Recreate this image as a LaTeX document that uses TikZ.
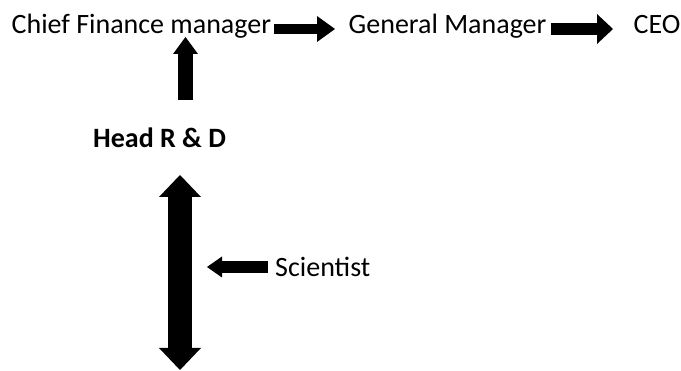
\documentclass[tikz,border=0pt]{standalone}
\usepackage{fontspec}
\setmainfont{Carlito}
\usetikzlibrary{arrows.meta}
\begin{document}
\begin{tikzpicture}[x=1pt,y=-1pt,
  label/.style={anchor=base west,inner sep=0pt,text height=18pt,text depth=8pt,
    font=\fontsize{28}{33}\selectfont},
  blockarrow/.style n args={3}{draw=black,line width=#1,
    -{Triangle[width=#2,length=#3,line width=0pt]}},
  dblarrow/.style n args={3}{draw=black,line width=#1,
    {Triangle[width=#2,length=#3,line width=0pt]}-{Triangle[width=#2,length=#3,line width=0pt]}}]
  \useasboundingbox (0,0) rectangle (681,371);
  \fill[white] (0,0) rectangle (681,371);

  % chain of command across the top
  \node[label] (cfm) at (11.5,34) {Chief Finance manager};
  \node[label] (gm)  at (348.5,34) {General Manager};
  \node[label] (ceo) at (633.5,34) {CEO};

  % research department
  \node[label,font=\fontsize{28}{33}\selectfont\bfseries] (hrd) at (93,148) {Head R \& D};
  \node[label] (sci) at (275,277) {Scientist};

  \coordinate (upfoot) at (185.5,100);
  \coordinate (uptip) at (185.5,37);
  \coordinate (dtop) at (180,175);
  \coordinate (dbot) at (180,370);
  \coordinate (scitip) at (207,267);

  % connectors
  \draw[blockarrow={10pt}{26pt}{18pt},shorten <=3pt,shorten >=13.5pt] (cfm.east) -- (gm.west);
  \draw[blockarrow={12pt}{30pt}{16pt},shorten <=4pt,shorten >=20.5pt] (gm.east) -- (ceo.west);
  \draw[blockarrow={15pt}{25pt}{17pt}] (upfoot) -- (uptip);
  \draw[dblarrow={24pt}{42pt}{22pt}] (dtop) -- (dbot);
  \draw[blockarrow={12pt}{21pt}{15pt},shorten <=7pt] ([yshift=5pt]sci.west) -- (scitip);
\end{tikzpicture}
\end{document}
